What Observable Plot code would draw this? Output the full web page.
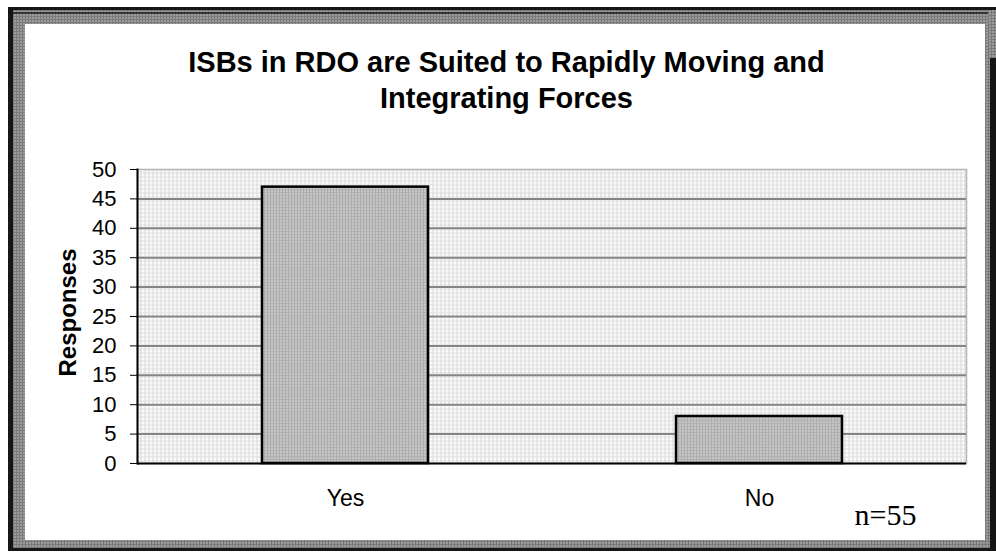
<!DOCTYPE html>
<html>
<head>
<meta charset="utf-8">
<script src="https://cdn.jsdelivr.net/npm/d3@7"></script>
<script src="https://cdn.jsdelivr.net/npm/@observablehq/plot@0.6"></script>
<style>
  html, body { margin: 0; padding: 0; background: #fff; }
  body { width: 996px; height: 552px; position: relative; overflow: hidden; }
  .blk { position: absolute; }
  .pat {
    background-color: #9c9c9c;
    background-image:
      repeating-linear-gradient(90deg, #7a7a7a 0 1px, transparent 1px 3px),
      repeating-linear-gradient(0deg, #7a7a7a 0 1px, transparent 1px 3px);
  }
  #chart { position: absolute; left: 0; top: 0; }
</style>
</head>
<body>
<div class="blk" style="left:8px;top:7px;width:988px;height:544px;background:#161616"></div>
<div class="blk pat" style="left:13px;top:10px;width:977px;height:538px"></div>
<div class="blk" style="left:13px;top:12px;width:975px;height:2px;background:#333"></div>
<div class="blk pat" style="left:988px;top:10px;width:8px;height:48px"></div>
<div class="blk" style="left:25px;top:24px;width:960px;height:516px;background:#fff"></div>
<div id="chart"></div>
<script>
// ---- data ----
const categories = ["Yes", "No"];
const responses = [47, 8];
const yTicks = [0, 5, 10, 15, 20, 25, 30, 35, 40, 45, 50];
const titleLines = ["ISBs in RDO are Suited to Rapidly Moving and", "Integrating Forces"];
const yLabel = "Responses";
const note = "n=55";

const data = categories.map((c, i) => ({answer: c, responses: responses[i]}));

const chart = Plot.plot({
  width: 996,
  height: 552,
  marginLeft: 137,
  marginRight: 30,
  marginTop: 169,
  marginBottom: 89,
  style: {
    background: "transparent",
    fontFamily: "'Liberation Sans', Arial, sans-serif",
    color: "#000",
    overflow: "visible"
  },
  x: {domain: categories, paddingInner: 0.6, paddingOuter: 0.3, label: null},
  y: {domain: [0, 50], label: null},
  marks: [
    Plot.frame({fill: "url(#bgpat)", stroke: "#b4b4b4", strokeWidth: 1.5}),
    Plot.ruleY(yTicks.filter(v => v > 0 && v < 50), {stroke: "#858585", strokeWidth: 2}),
    Plot.barY(data, {x: "answer", y: "responses", fill: "url(#barpat)", stroke: "#000", strokeWidth: 2.5}),
    Plot.ruleY([0], {stroke: "#000", strokeWidth: 2}),
    Plot.frame({anchor: "left", stroke: "#000", strokeWidth: 2}),
    Plot.axisY({ticks: yTicks, tickSize: 7, tickPadding: 14, fontSize: 22, label: null, stroke: "#000"}),
    Plot.axisX({tickSize: 0, tickPadding: 26, fontSize: 23, label: null}),
    Plot.text([titleLines.join("\n")], {
      frameAnchor: "top", dx: -45.5, dy: -62, lineAnchor: "bottom", lineHeight: 1.22,
      fontSize: 29, fontWeight: "bold"
    }),
    Plot.text([yLabel], {
      frameAnchor: "left", textAnchor: "middle", rotate: -90, dx: -69, dy: -4,
      fontSize: 24, fontWeight: "bold"
    }),
    Plot.text([note], {
      frameAnchor: "bottom-right", textAnchor: "end", lineAnchor: "bottom", dx: -50, dy: 61,
      fontSize: 30, fontFamily: "'Liberation Serif', 'Times New Roman', serif"
    })
  ]
});

// patterns used by the plot-area background and the bars
const svg = d3.select(chart);
const defs = svg.insert("defs", ":first-child");
const bg = defs.append("pattern").attr("id", "bgpat").attr("patternUnits", "userSpaceOnUse")
  .attr("width", 4).attr("height", 4);
bg.append("rect").attr("width", 4).attr("height", 4).attr("fill", "#fafafa");
bg.append("rect").attr("width", 1).attr("height", 4).attr("fill", "#d6d6d6");
bg.append("rect").attr("width", 4).attr("height", 1).attr("fill", "#dedede");
const bp = defs.append("pattern").attr("id", "barpat").attr("patternUnits", "userSpaceOnUse")
  .attr("width", 3).attr("height", 3);
bp.append("rect").attr("width", 3).attr("height", 3).attr("fill", "#c6c6c6");
bp.append("rect").attr("width", 1).attr("height", 3).attr("fill", "#a9a9a9");
bp.append("rect").attr("width", 3).attr("height", 1).attr("fill", "#b2b2b2");

document.getElementById("chart").appendChild(chart);
</script>
</body>
</html>
